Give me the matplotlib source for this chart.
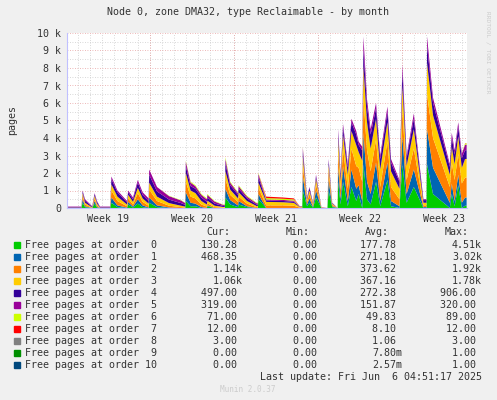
import matplotlib
matplotlib.use("Agg")
import matplotlib.pyplot as plt
import numpy as np

t = [0, 1.2, 1.3, 1.5, 2.1, 2.3, 2.5, 2.75, 3.6, 3.7, 4.2, 5.0, 5.1, 5.5, 5.9, 6.3, 6.8, 6.85, 7.5, 8.5,
     9.5, 9.85, 9.9, 10.3, 10.7, 11.2, 11.65, 11.7, 12.3, 13.0, 13.15, 13.2, 13.6, 14.25, 14.3, 15.0, 15.8, 15.9, 15.95, 16.6,
     18.0, 18.9, 19.4, 19.6, 19.65, 20.0, 20.2, 20.5, 20.75, 21.2, 21.7, 21.8, 22.1, 22.55, 22.6, 22.8, 23.0, 23.4, 23.7, 24.1,
     24.3, 24.6, 24.7, 25.0, 25.3, 25.75, 26.1, 26.7, 27.0, 27.7, 27.95, 28.3, 28.9, 29.7, 29.95, 30.0, 30.5, 31.9, 32.06, 32.3,
     32.6, 32.9, 33.17, 33.3]

o0 = [0, 0, 300, 50, 0, 250, 30, 0, 0, 300, 50, 0, 200, 30, 250, 50, 0, 300, 50, 0,
      0, 0, 400, 100, 100, 0, 0, 100, 0, 0, 0, 600, 200, 50, 200, 50, 0, 0, 500, 0,
      0, 0, 0, 0, 1000, 100, 300, 20, 600, 0, 0, 1000, 50, 0, 1500, 200, 1500, 100, 1200, 400,
      800, 0, 2500, 500, 200, 1500, 100, 1600, 100, 0, 2500, 300, 1200, 0, 0, 2500, 800, 0, 800, 100,
      1300, 0, 130, 130]
o1 = [0, 0, 200, 50, 0, 150, 40, 0, 0, 300, 100, 20, 150, 50, 250, 100, 30, 300, 100, 30,
      0, 0, 500, 200, 150, 50, 0, 50, 0, 0, 0, 500, 250, 100, 200, 50, 0, 0, 300, 0,
      0, 0, 0, 0, 800, 100, 250, 40, 400, 0, 0, 600, 50, 0, 800, 300, 900, 300, 1000, 700,
      500, 400, 1800, 1000, 600, 1100, 300, 1000, 300, 100, 1600, 500, 1000, 50, 50, 2000, 1500, 300, 600, 300,
      600, 300, 470, 470]
o2 = [10, 10, 200, 100, 10, 150, 80, 10, 10, 400, 250, 80, 200, 120, 350, 200, 100, 450, 250, 100,
      50, 30, 600, 350, 300, 150, 80, 120, 50, 20, 20, 550, 300, 200, 250, 150, 50, 50, 350, 150,
      150, 130, 20, 20, 600, 150, 250, 80, 350, 10, 0, 500, 80, 0, 900, 500, 1000, 700, 1200, 1300,
      1000, 1100, 2000, 1800, 1300, 1300, 800, 1200, 800, 400, 1500, 800, 1200, 100, 100, 2000, 1700, 900, 1200, 1200,
      1200, 1100, 1140, 1140]
o3 = [10, 10, 150, 100, 20, 150, 100, 10, 10, 350, 250, 100, 200, 150, 300, 200, 120, 400, 250, 150,
      80, 50, 500, 350, 300, 200, 120, 150, 80, 40, 40, 450, 300, 200, 250, 150, 60, 60, 300, 200,
      180, 160, 30, 30, 500, 120, 200, 80, 300, 20, 0, 350, 60, 0, 700, 500, 800, 800, 1000, 1200,
      900, 1200, 1800, 1600, 1300, 1200, 1000, 1100, 900, 600, 1400, 800, 1100, 150, 150, 1800, 1300, 700, 900, 900,
      1000, 900, 1060, 1060]
o4 = [30, 30, 100, 120, 40, 100, 90, 30, 30, 300, 250, 120, 150, 150, 300, 200, 150, 450, 300, 200,
      150, 100, 400, 250, 250, 200, 150, 180, 120, 60, 60, 450, 250, 200, 200, 150, 80, 80, 300, 80,
      70, 70, 20, 20, 350, 80, 150, 50, 150, 10, 0, 250, 40, 0, 400, 300, 400, 400, 500, 600,
      400, 600, 1000, 900, 800, 600, 600, 600, 500, 400, 800, 450, 600, 150, 150, 1000, 700, 450, 550, 550,
      550, 550, 500, 500]
o5 = [30, 30, 50, 80, 30, 50, 60, 30, 30, 150, 100, 80, 100, 100, 150, 150, 150, 300, 250, 200,
      150, 100, 250, 200, 150, 150, 150, 150, 120, 60, 60, 250, 150, 100, 150, 100, 80, 80, 200, 60,
      60, 60, 20, 20, 200, 50, 50, 30, 100, 10, 0, 100, 20, 0, 200, 100, 200, 200, 200, 200,
      200, 200, 700, 400, 300, 300, 200, 300, 200, 100, 400, 150, 300, 50, 50, 500, 300, 150, 250, 250,
      250, 250, 320, 320]
o6 = [0, 0, 0, 0, 0, 0, 0, 0, 0, 0, 0, 0, 0, 0, 0, 0, 0, 0, 0, 20,
      20, 20, 50, 50, 50, 50, 50, 50, 30, 20, 20, 100, 50, 50, 50, 50, 30, 30, 50, 80,
      70, 70, 5, 5, 50, 0, 0, 0, 0, 0, 0, 0, 0, 0, 0, 0, 0, 0, 0, 0,
      0, 0, 0, 0, 0, 0, 0, 0, 0, 0, 0, 0, 0, 0, 0, 0, 0, 0, 0, 0,
      0, 0, 71, 71]
o7 = [0, 0, 0, 0, 0, 0, 0, 0, 0, 0, 0, 0, 0, 0, 0, 0, 0, 0, 0, 0,
      0, 0, 0, 0, 0, 0, 0, 0, 0, 0, 0, 0, 0, 0, 0, 0, 0, 0, 0, 80,
      70, 60, 5, 5, 0, 0, 0, 0, 0, 0, 0, 0, 0, 0, 0, 0, 0, 0, 0, 0,
      0, 0, 0, 0, 0, 0, 0, 0, 0, 0, 0, 0, 0, 0, 0, 0, 0, 0, 0, 0,
      0, 0, 12, 12]

names = [f"Free pages at order {i:>2}" for i in range(11)]
colors = ["#00cc00", "#0066b3", "#ff8000", "#ffcc00", "#330099", "#990099",
          "#ccff00", "#ff0000", "#808080", "#008f00", "#00487d"]
cur = ["130.28 ", "468.35 ", "1.14k", "1.06k", "497.00 ", "319.00 ", "71.00 ", "12.00 ", "3.00 ", "0.00 ", "0.00 "]
mins = ["0.00 "] * 11
avg = ["177.78 ", "271.18 ", "373.62 ", "367.16 ", "272.38 ", "151.87 ", "49.83 ", "8.10 ", "1.06 ", "7.80m", "2.57m"]
mx = ["4.51k", "3.02k", "1.92k", "1.78k", "906.00 ", "320.00 ", "89.00 ", "12.00 ", "3.00 ", "1.00 ", "1.00 "]
week_labels = ["Week 19", "Week 20", "Week 21", "Week 22", "Week 23"]

W, H = 497, 400
fig = plt.figure(figsize=(W / 100, H / 100), dpi=100, facecolor="#f0f0f0")
mono = "DejaVu Sans Mono"
tc = "#333333"
ax = fig.add_axes([67 / W, (H - 208) / H, 400 / W, 175 / H], facecolor="white")
series = [o0, o1, o2, o3, o4, o5, o6, o7]
ax.stackplot(t, *series, colors=colors[:8], linewidth=0)
ax.set_xlim(0, 33.33)
ax.set_ylim(0, 10000)

for d in np.arange(-0.08, 33.4, 1.0):
    ax.axvline(d, color="#cccccc", lw=0.6, ls=(0, (1, 2)), zorder=0)
for d in np.arange(6.92, 33.4, 7.0):
    ax.axvline(d, color="#e8a0a0", lw=0.6, ls=(0, (1, 2)), zorder=0.5)
for v in range(500, 10001, 1000):
    ax.axhline(v, color="#cccccc", lw=0.6, ls=(0, (1, 2)), zorder=0)
for v in range(1000, 10001, 1000):
    ax.axhline(v, color="#e8a0a0", lw=0.6, ls=(0, (1, 2)), zorder=0.5)

ax.set_yticks(range(0, 10001, 1000))
ax.set_yticklabels(["0"] + [f"{k} k" for k in range(1, 11)])
ax.set_xticks([3.42 + 7 * k for k in range(5)])
ax.set_xticklabels(week_labels)
ax.tick_params(length=0, labelsize=7.2, colors=tc, pad=4)
for lab in ax.get_xticklabels() + ax.get_yticklabels():
    lab.set_family(mono)
for s in ["top", "right"]:
    ax.spines[s].set_visible(False)
for s in ["left", "bottom"]:
    ax.spines[s].set_color("#c0c0ff")
    ax.spines[s].set_linewidth(0.8)

fig.text(248 / W, 1 - 12 / H, "Node 0, zone DMA32, type Reclaimable - by month", ha="center", va="center",
         fontsize=7.2, family=mono, color=tc)
fig.text(12 / W, 1 - 120 / H, "pages", rotation=90, ha="center", va="center", fontsize=7.2, family=mono, color=tc)
fig.text(488 / W, 1 - 52 / H, "RRDTOOL / TOBI OETIKER", rotation=270, ha="center", va="center",
         fontsize=4.5, family=mono, color="#cccccc")

def ft(x, y, s, ha="left", **kw):
    fig.text(x / W, 1 - y / H, s, ha=ha, va="center", fontsize=7.2, family=mono, color=kw.get("color", tc))

for x, h in [(230, "Cur:"), (310, "Min:"), (389, "Avg:"), (469, "Max:")]:
    ft(x, 232, h, ha="right")
for i in range(11):
    y = 245 + 12 * i
    fig.patches.append(plt.Rectangle((14 / W, 1 - (y + 3) / H), 6 / W, 6 / H, transform=fig.transFigure,
                                     color=colors[i], figure=fig))
    ft(25, y, names[i])
    ft(243, y, cur[i], ha="right")
    ft(323, y, mins[i], ha="right")
    ft(402, y, avg[i], ha="right")
    ft(482, y, mx[i], ha="right")
ft(482, 377, "Last update: Fri Jun  6 04:51:17 2025", ha="right")
fig.text(248 / W, 1 - 390 / H, "Munin 2.0.37", ha="center", va="center", fontsize=5.5, family=mono, color="#cccccc")

fig.savefig("out.png", dpi=100, facecolor=fig.get_facecolor())
